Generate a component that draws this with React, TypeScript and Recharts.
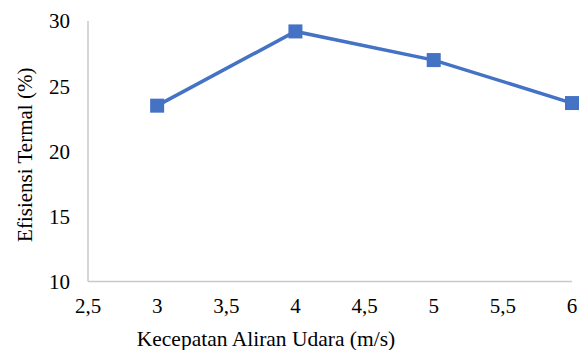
import React from "react";
import { LineChart, Line, XAxis, YAxis } from "recharts";

const speeds = [3, 4, 5, 6];
const efficiency = [23.5, 29.2, 27.0, 23.7];
const xTicks = [2.5, 3, 3.5, 4, 4.5, 5, 5.5, 6];
const yTicks = [10, 15, 20, 25, 30];

const data = speeds.map((s, i) => ({ x: s, y: efficiency[i] }));

const FONT = "Liberation Serif";
const BLUE = "#4472C4";
const TICK_SIZE = 21;

const SquareDot = (props: any) => {
  const { cx, cy } = props;
  if (cx == null || cy == null) return null;
  const s = 14;
  return <rect x={cx - s / 2} y={cy - s / 2} width={s} height={s} fill={BLUE} />;
};

const fmt = (v: number) => String(v).replace(".", ",");

const XTick = (props: any) => {
  const { x, y, payload } = props;
  return (
    <text
      x={x}
      y={y}
      dy="0.71em"
      textAnchor="middle"
      fill="#000"
      style={{ fontFamily: FONT, fontSize: TICK_SIZE }}
    >
      {fmt(payload.value)}
    </text>
  );
};

const YTick = (props: any) => {
  const { x, y, payload } = props;
  return (
    <text
      x={x}
      y={y}
      dy="0.355em"
      textAnchor="end"
      fill="#000"
      style={{ fontFamily: FONT, fontSize: TICK_SIZE }}
    >
      {fmt(payload.value)}
    </text>
  );
};

export default function App() {
  return (
    <div style={{ position: "absolute", left: 0, top: 0, fontFamily: FONT }}>
      <LineChart
        width={585}
        height={350}
        data={data}
        margin={{ top: 21, right: 13, left: 0, bottom: 0 }}
        style={{ fontFamily: FONT }}
      >
        <XAxis
          dataKey="x"
          type="number"
          domain={[2.5, 6]}
          ticks={xTicks}
          axisLine={{ stroke: "#c9c9c9", strokeWidth: 1.5 }}
          tickLine={false}
          tickSize={0}
          tickMargin={17}
          height={68.5}
          tick={<XTick />}
          label={{
            value: "Kecepatan Aliran Udara (m/s)",
            position: "insideBottom",
            offset: 4,
            dx: -64,
            fill: "#000",
            fontSize: 21.5,
            fontFamily: FONT,
            style: { fontFamily: FONT, fontSize: 21.5 },
          }}
        />
        <YAxis
          type="number"
          domain={[10, 30]}
          ticks={yTicks}
          axisLine={{ stroke: "#c9c9c9", strokeWidth: 1.5 }}
          tickLine={false}
          tickSize={0}
          tickMargin={18}
          width={88}
          tick={<YTick />}
          label={{
            value: "Efisiensi Termal (%)",
            angle: -90,
            position: "center",
            dx: -19,
            dy: 3.5,
            fill: "#000",
            fontSize: 21,
            fontFamily: FONT,
            style: { fontFamily: FONT, fontSize: 21 },
          }}
        />
        <Line
          dataKey="y"
          stroke={BLUE}
          strokeWidth={3.5}
          dot={<SquareDot />}
          activeDot={false}
          isAnimationActive={false}
        />
      </LineChart>
    </div>
  );
}
